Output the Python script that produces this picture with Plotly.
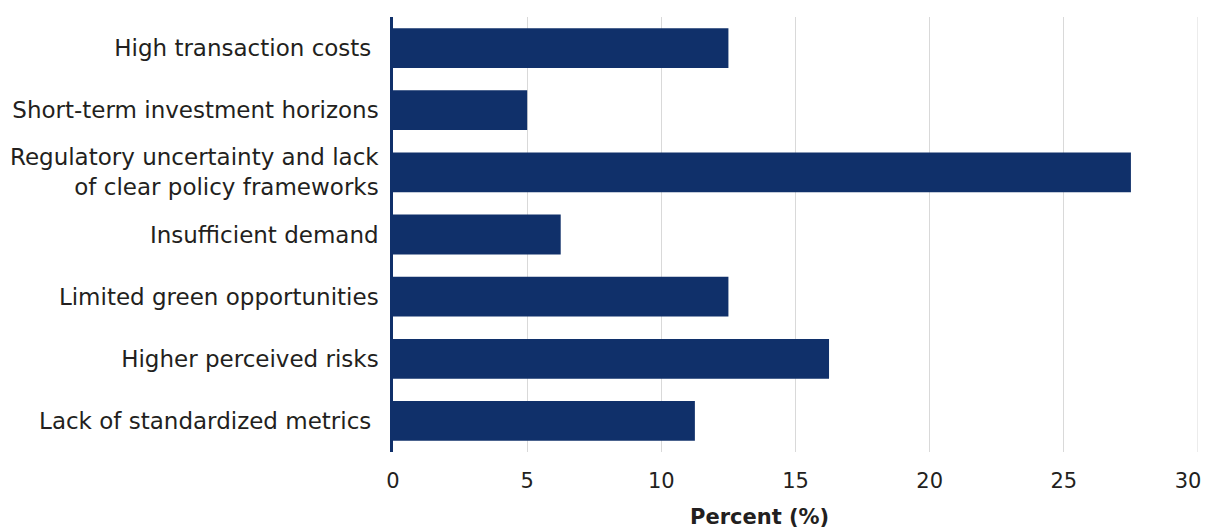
import plotly.graph_objects as go

categories = [
    "High transaction costs\u00a0",
    "Short-term investment horizons",
    "Regulatory uncertainty and lack<br>of clear policy frameworks",
    "Insufficient demand",
    "Limited green opportunities",
    "Higher perceived risks",
    "Lack of standardized metrics\u00a0",
]
values = [12.5, 5.0, 27.5, 6.25, 12.5, 16.25, 11.25]
x_ticks = [0, 5, 10, 15, 20, 25, 30]

BAR = "#10306a"
TEXT = "#231f20"
GRID = "#d9d9d9"
FONT = "DejaVu Sans"

# last tick label is padded so it is not clipped at the right edge of the page
x_ticktext = [str(v) for v in x_ticks]
x_ticktext[-1] = x_ticktext[-1] + "\u00a0\u00a0\u00a0"

fig = go.Figure(go.Bar(
    x=values, y=categories, orientation="h",
    marker=dict(color=BAR, line=dict(width=0)),
    width=0.64,
))

# gridline at the right end of the axis (plotly omits it at the range bound)
fig.add_shape(type="line", xref="x", yref="paper", x0=x_ticks[-1], x1=x_ticks[-1],
              y0=0, y1=1, line=dict(color=GRID, width=1), layer="below")

# page body has an 8px margin: size the figure so the plot area lands where the reference has it
fig.update_layout(
    width=1203, height=520,
    margin=dict(l=385, r=13, t=9, b=76),
    paper_bgcolor="white", plot_bgcolor="white",
    font=dict(family=FONT, size=23, color=TEXT),
    showlegend=False,
    xaxis=dict(
        range=[0, 30], tickvals=x_ticks, ticktext=x_ticktext,
        showgrid=True, gridcolor=GRID, gridwidth=1,
        zeroline=False, showline=False, ticks="",
        tickfont=dict(size=21, color=TEXT), ticklabelstandoff=14,
        ticklabeloverflow="allow", automargin=False,
    ),
    yaxis=dict(
        categoryorder="array", categoryarray=categories, autorange="reversed",
        showgrid=False, zeroline=False,
        showline=True, linecolor=BAR, linewidth=2.5,
        ticks="", ticklabelstandoff=7, automargin=False,
        tickfont=dict(size=23, color=TEXT),
    ),
    annotations=[dict(
        text="<b>Percent (%)</b>", x=0.455, y=-0.149, xref="paper", yref="paper",
        xanchor="center", yanchor="middle", showarrow=False,
        font=dict(size=21, color=TEXT, family=FONT),
    )],
)

fig.write_html("out.html")
